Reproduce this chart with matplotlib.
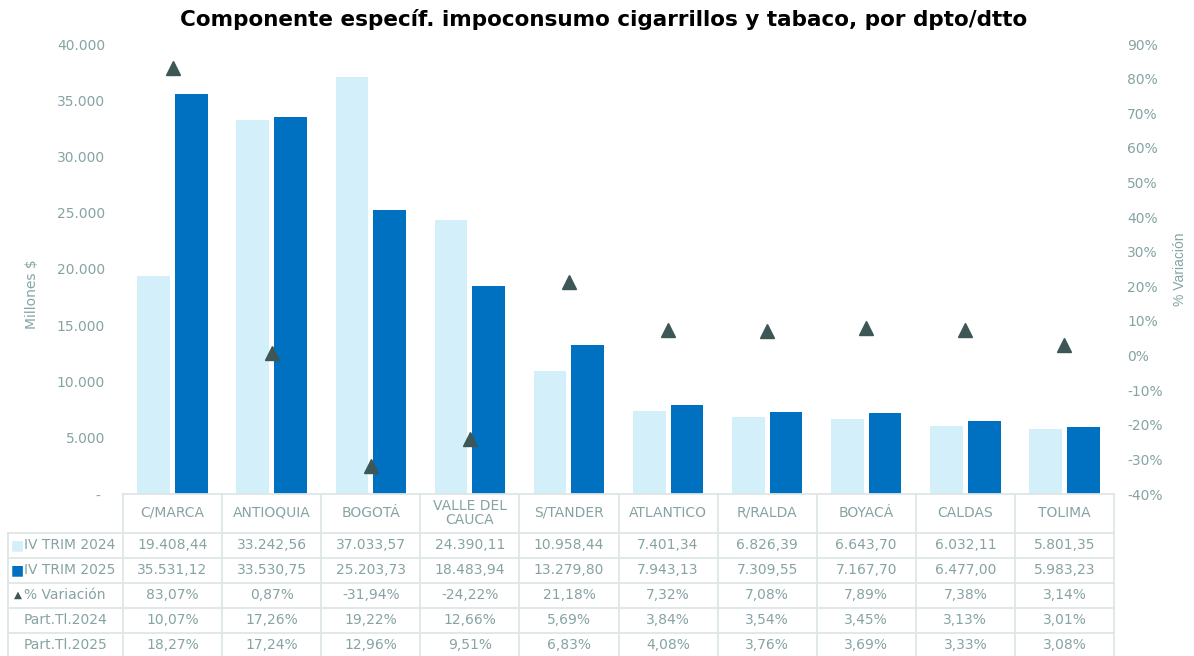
import matplotlib
matplotlib.use('Agg')
import matplotlib.pyplot as plt
import matplotlib.transforms as mtransforms
from matplotlib.lines import Line2D
from matplotlib.ticker import FuncFormatter, MultipleLocator
import numpy as np

categories = ['C/MARCA', 'ANTIOQUIA', 'BOGOTÁ', 'VALLE DEL\nCAUCA', 'S/TANDER',
              'ATLANTICO', 'R/RALDA', 'BOYACÁ', 'CALDAS', 'TOLIMA']
trim_2024 = [19408.44, 33242.56, 37033.57, 24390.11, 10958.44, 7401.34, 6826.39, 6643.70, 6032.11, 5801.35]
trim_2025 = [35531.12, 33530.75, 25203.73, 18483.94, 13279.80, 7943.13, 7309.55, 7167.70, 6477.00, 5983.23]
variacion = [83.07, 0.87, -31.94, -24.22, 21.18, 7.32, 7.08, 7.89, 7.38, 3.14]
part_2024 = [10.07, 17.26, 19.22, 12.66, 5.69, 3.84, 3.54, 3.45, 3.13, 3.01]
part_2025 = [18.27, 17.24, 12.96, 9.51, 6.83, 4.08, 3.76, 3.69, 3.33, 3.08]

light = '#D3F0FA'
dark = '#0070C0'
tri_col = '#3D5757'
txt_col = '#86A3A3'
grid_col = '#DDE6E6'

W, H = 1194, 656


def es_num(v, dec=2):
    s = f"{v:,.{dec}f}"
    return s.replace(',', 'X').replace('.', ',').replace('X', '.')


plt.rcParams['font.family'] = ['DejaVu Sans']

fig = plt.figure(figsize=(W / 100, H / 100), dpi=100)
ax = fig.add_axes([123 / W, 1 - 494 / H, (1114 - 123) / W, (494 - 44) / H])
ax2 = ax.twinx()

x = np.arange(len(categories))
ax.bar(x - 0.19, trim_2024, width=0.33, color=light, zorder=2)
ax.bar(x + 0.19, trim_2025, width=0.33, color=dark, zorder=2)
ax2.plot(x, variacion, linestyle='none', marker='^', markersize=10, color=tri_col)

ax.set_xlim(-0.5, len(categories) - 0.5)
ax.set_ylim(0, 40000)
ax.yaxis.set_major_locator(MultipleLocator(5000))
ax.yaxis.set_major_formatter(FuncFormatter(lambda v, p: '- ' if v == 0 else es_num(v, 0)))
ax2.set_ylim(-40, 90)
ax2.yaxis.set_major_locator(MultipleLocator(10))
ax2.yaxis.set_major_formatter(FuncFormatter(lambda v, p: f"{int(round(v))}%"))
ax.set_xticks([])

for a in (ax, ax2):
    for s in a.spines.values():
        s.set_visible(False)
ax.tick_params(axis='y', length=0, pad=13, labelsize=10, labelcolor=txt_col)
ax2.tick_params(axis='y', length=0, pad=9.5, labelsize=10, labelcolor=txt_col)
ax.set_ylabel('Millones $', color=txt_col, fontsize=10)
ax.yaxis.set_label_coords((39 - 123) / 991, (494 - 294) / 450)
ax2.set_ylabel('% Variación', color=txt_col, fontsize=10, family=['Liberation Sans', 'DejaVu Sans'])
ax2.yaxis.set_label_coords((1173 - 123) / 991, 0.5)

fig.text(604 / W, 1 - 20 / H, 'Componente específ. impoconsumo cigarrillos y tabaco, por dpto/dtto',
         ha='center', va='center', fontsize=15.5, fontweight='bold', color='black')

# table below the plot
tb = mtransforms.blended_transform_factory(ax.transData, fig.transFigure)
tf = fig.transFigure


def fy(py):
    return 1 - py / H


row_lines = [532.5, 557.5, 582.5, 607.5, 632.5]
lw = 1.3
fig.add_artist(Line2D([-0.5, 9.5], [fy(494), fy(494)], transform=tb, color=grid_col, lw=lw))
for ry in row_lines:
    fig.add_artist(Line2D([8 / W, 123 / W], [fy(ry), fy(ry)], transform=tf, color=grid_col, lw=lw))
    fig.add_artist(Line2D([-0.5, 9.5], [fy(ry), fy(ry)], transform=tb, color=grid_col, lw=lw))
for i in range(len(categories) + 1):
    fig.add_artist(Line2D([i - 0.5, i - 0.5], [fy(494), fy(660)], transform=tb, color=grid_col, lw=lw))
fig.add_artist(Line2D([8 / W, 8 / W], [fy(532.5), fy(660)], transform=tf, color=grid_col, lw=lw))

fs = 10
for i, c in enumerate(categories):
    fig.text(i, fy(513), c, transform=tb, ha='center', va='center', fontsize=fs,
             color=txt_col, linespacing=1.0)

rows = [
    ('IV TRIM 2024', '■', light, [es_num(v) for v in trim_2024]),
    ('IV TRIM 2025', '■', dark, [es_num(v) for v in trim_2025]),
    ('% Variación', '▲', tri_col, [es_num(v) + '%' for v in variacion]),
    ('Part.Tl.2024', None, None, [es_num(v) + '%' for v in part_2024]),
    ('Part.Tl.2025', None, None, [es_num(v) + '%' for v in part_2025]),
]
for k, (label, sym, scol, vals) in enumerate(rows):
    cy = fy(row_lines[0] + 12.5 + 25 * k)
    if sym:
        fig.text(17.5 / W, cy, sym, transform=tf, ha='center', va='center',
                 fontsize=10 if sym == '■' else 7.5, color=scol)
        fig.text(24 / W, cy, label, transform=tf, ha='left', va='center', fontsize=fs, color=txt_col)
    else:
        fig.text(65.5 / W, cy, label, transform=tf, ha='center', va='center', fontsize=fs, color=txt_col)
    for i, v in enumerate(vals):
        fig.text(i, cy, v, transform=tb, ha='center', va='center', fontsize=fs, color=txt_col)

fig.savefig('out.png', dpi=100)
